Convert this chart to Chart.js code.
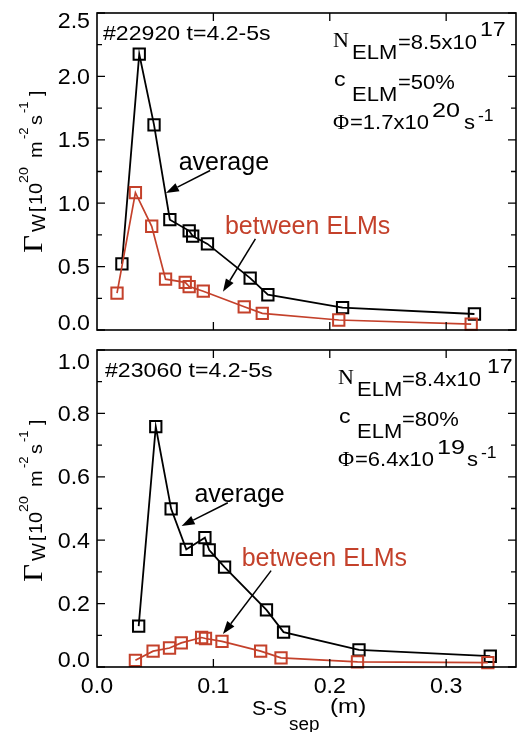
<!DOCTYPE html>
<html>
<head>
<meta charset="utf-8">
<script src="https://cdn.jsdelivr.net/npm/chart.js@4.4.1/dist/chart.umd.min.js"></script>
<style>
  body { margin: 0; background: #fff; width: 526px; height: 732px; overflow: hidden; position: relative; }
  canvas { position: absolute; left: 0; }
</style>
</head>
<body>
<canvas id="topChart" width="526" height="340" style="top:0"></canvas>
<canvas id="botChart" width="526" height="392" style="top:340px"></canvas>
<script>
// shared x axis, S-S_sep in m
const xTicks = [0, 0.1, 0.2, 0.3];
const xTickLabels = ["0.0", "0.1", "0.2", "0.3"];

// shot #22920 (top panel)
const topAvgX = [0.0214, 0.0363, 0.049, 0.0626, 0.0792, 0.0822, 0.0949, 0.1316, 0.1468, 0.211, 0.3243];
const topAvgY = [0.522, 2.176, 1.618, 0.87, 0.782, 0.741, 0.679, 0.409, 0.278, 0.177, 0.126];
const topElmX = [0.0172, 0.033, 0.047, 0.0589, 0.0758, 0.0792, 0.0913, 0.1265, 0.142, 0.2077, 0.3215];
const topElmY = [0.291, 1.083, 0.818, 0.401, 0.376, 0.342, 0.306, 0.183, 0.131, 0.079, 0.046];
const topYTicks = [0, 0.5, 1, 1.5, 2, 2.5];
const topYTickLabels = ["0.0", "0.5", "1.0", "1.5", "2.0", "2.5"];
const topYMinor = [0.25, 0.75, 1.25, 1.75, 2.25];

// shot #23060 (bottom panel)
const botAvgX = [0.0358, 0.0505, 0.0637, 0.0767, 0.0927, 0.0964, 0.1096, 0.1456, 0.1603, 0.2251, 0.3379];
const botAvgY = [0.129, 0.758, 0.499, 0.371, 0.408, 0.369, 0.315, 0.18, 0.11, 0.054, 0.034];
const botElmX = [0.033, 0.0482, 0.0623, 0.0724, 0.0899, 0.0932, 0.1074, 0.1406, 0.1581, 0.2238, 0.3358];
const botElmY = [0.021, 0.05, 0.06, 0.076, 0.093, 0.09, 0.081, 0.05, 0.029, 0.016, 0.014];
const botYTicks = [0, 0.2, 0.4, 0.6, 0.8, 1.0];
const botYTickLabels = ["0.0", "0.2", "0.4", "0.6", "0.8", "1.0"];
const botYMinor = [0.1, 0.3, 0.5, 0.7, 0.9];

const RED = "#c4412b";
const SANS = '"Liberation Sans", Arial, Helvetica, sans-serif';
const SERIF = '"Liberation Serif", "Times New Roman", serif';

function pts(xs, ys) {
  return xs.map((x, i) => ({ x: x, y: ys[i] }));
}

// text with a little horizontal stretch, like the original plot fonts
function put(ctx, s, x, y, size, o) {
  o = o || {};
  ctx.save();
  ctx.font = size + "px " + (o.serif ? SERIF : SANS);
  ctx.fillStyle = o.color || "#000";
  ctx.textAlign = o.align || "left";
  ctx.textBaseline = "alphabetic";
  ctx.translate(x, y);
  ctx.scale(o.sx === undefined ? 1.1 : o.sx, 1);
  ctx.fillText(s, 0, 0);
  ctx.restore();
}

function arrow(ctx, x1, y1, x2, y2) {
  const a = Math.atan2(y2 - y1, x2 - x1);
  const L = 13, W = 4.5;
  ctx.save();
  ctx.strokeStyle = "#000";
  ctx.fillStyle = "#000";
  ctx.lineWidth = 1.5;
  ctx.beginPath();
  ctx.moveTo(x1, y1);
  ctx.lineTo(x2 - Math.cos(a) * L, y2 - Math.sin(a) * L);
  ctx.stroke();
  ctx.beginPath();
  ctx.moveTo(x2, y2);
  ctx.lineTo(x2 - Math.cos(a) * L - Math.sin(a) * W, y2 - Math.sin(a) * L + Math.cos(a) * W);
  ctx.lineTo(x2 - Math.cos(a) * L + Math.sin(a) * W, y2 - Math.sin(a) * L - Math.cos(a) * W);
  ctx.closePath();
  ctx.fill();
  ctx.restore();
}

function frameAndText(p) {
  return {
    id: "frame_" + p.name,
    afterDraw(chart) {
      const ctx = chart.ctx;
      const a = chart.chartArea;
      const xs = chart.scales.x, ys = chart.scales.y;

      // box
      ctx.save();
      ctx.strokeStyle = "#000";
      ctx.lineWidth = 1.6;
      ctx.strokeRect(a.left, a.top, a.right - a.left, a.bottom - a.top);

      // inward ticks on all four sides
      ctx.lineWidth = 1.3;
      ctx.beginPath();
      xTicks.forEach(v => {
        const px = xs.getPixelForValue(v);
        if (px <= a.left + 1) return;
        ctx.moveTo(px, a.bottom); ctx.lineTo(px, a.bottom - 8);
        ctx.moveTo(px, a.top); ctx.lineTo(px, a.top + 8);
      });
      p.yTicks.forEach(v => {
        const py = ys.getPixelForValue(v);
        ctx.moveTo(a.left, py); ctx.lineTo(a.left + 8, py);
        ctx.moveTo(a.right, py); ctx.lineTo(a.right - 8, py);
      });
      p.yMinor.forEach(v => {
        const py = ys.getPixelForValue(v);
        ctx.moveTo(a.left, py); ctx.lineTo(a.left + 5, py);
        ctx.moveTo(a.right, py); ctx.lineTo(a.right - 5, py);
      });
      ctx.stroke();
      ctx.restore();

      // y tick labels, kept inside the panel height
      p.yTicks.forEach((v, i) => {
        let cy = ys.getPixelForValue(v);
        cy = Math.max(a.top + p.labTop, Math.min(a.bottom - 7.5, cy));
        put(ctx, p.yTickLabels[i], 90, cy + 7.5, 21.5, { align: "right", sx: 1.08 });
      });

      // x tick labels only on the lower panel
      if (p.xLabels) {
        xTicks.forEach((v, i) => {
          put(ctx, xTickLabels[i], xs.getPixelForValue(v), a.bottom + 26, 21.5, { align: "center", sx: 1.08 });
        });
        put(ctx, "S-S", 252, a.bottom + 48, 21, { sx: 1.0 });
        put(ctx, "sep", 289, a.bottom + 63, 18, { sx: 1.05 });
        put(ctx, "(m)", 330, a.bottom + 46, 21, { sx: 1.15 });
      }

      // rotated y title: Γ_W[10^20 m^-2 s^-1]
      ctx.save();
      ctx.translate(42, a.top + p.titleStart);
      ctx.rotate(-Math.PI / 2);
      put(ctx, "\u0393", 0, 0, 27, { serif: true, sx: 1.15 });
      put(ctx, "W", 21, 3, 18, { sx: 1.05 });
      put(ctx, "[", 41, 0, 19, { sx: 1.0 });
      put(ctx, "10", 48, 0, 19, { sx: 1.05 });
      put(ctx, "20", 70, -14, 13, { sx: 1.1 });
      put(ctx, "m", 95, 0, 19, { sx: 1.05 });
      put(ctx, "-2", 114, -14, 13, { sx: 1.0 });
      put(ctx, "s", 128, 0, 19, { sx: 1.05 });
      put(ctx, "-1", 140, -14, 13, { sx: 1.0 });
      put(ctx, "]", 157, 0, 19, { sx: 1.0 });
      ctx.restore();

      // header and ELM numbers
      const T = a.top;
      put(ctx, p.header, p.headerX, T + 27, 21);
      const b = p.block, x0 = p.blockX;
      put(ctx, "N", x0, T + 34, 22, { serif: true, sx: 1.0 });
      put(ctx, "ELM", x0 + 19, T + 46, 20);
      put(ctx, b.n, x0 + b.nDx, T + 36, 20);
      put(ctx, "17", x0 + b.n17Dx, T + 23, 21);
      put(ctx, "c", x0 + 1, T + 73, 21);
      put(ctx, "ELM", x0 + 19, T + 88, 20);
      put(ctx, b.c, x0 + b.nDx, T + 76, 20);
      put(ctx, "\u03a6", x0, T + 116, 22, { serif: true, sx: 1.0 });
      put(ctx, b.phi, x0 + 17, T + 116, 20);
      put(ctx, b.phiExp, x0 + 99, T + 104, 21, { sx: 1.2 });
      put(ctx, "s", x0 + b.sDx, T + 116, 20);
      put(ctx, "-1", x0 + b.sDx + 14, T + 108, 16);

      // annotations, placed in data units
      p.notes.forEach(n => {
        put(ctx, n.text, xs.getPixelForValue(n.tx), ys.getPixelForValue(n.ty), 25, { sx: 1.0, color: n.color });
        arrow(ctx, xs.getPixelForValue(n.ax1), ys.getPixelForValue(n.ay1),
              xs.getPixelForValue(n.ax2), ys.getPixelForValue(n.ay2));
      });
    }
  };
}

function makeChart(id, p) {
  const canvas = document.getElementById(id);
  const ctx = canvas.getContext("2d");
  return new Chart(ctx, {
    type: "line",
    data: {
      datasets: [
        {
          label: "between ELMs",
          data: pts(p.elmX, p.elmY),
          borderColor: RED,
          borderWidth: 1.7,
          pointStyle: "rect",
          pointRadius: 8,
          pointBorderWidth: 2,
          pointBorderColor: RED,
          pointBackgroundColor: "rgba(0,0,0,0)",
          tension: 0,
          clip: false
        },
        {
          label: "average",
          data: pts(p.avgX, p.avgY),
          borderColor: "#000",
          borderWidth: 1.8,
          pointStyle: "rect",
          pointRadius: 8,
          pointBorderWidth: 2,
          pointBorderColor: "#000",
          pointBackgroundColor: "rgba(0,0,0,0)",
          tension: 0,
          clip: false
        }
      ]
    },
    options: {
      responsive: false,
      animation: false,
      devicePixelRatio: 1,
      events: [],
      layout: { padding: p.padding },
      plugins: { legend: { display: false }, tooltip: { enabled: false } },
      scales: {
        x: { type: "linear", min: 0, max: 0.36, display: false },
        y: { type: "linear", min: 0, max: p.yMax, display: false }
      }
    },
    plugins: [frameAndText(p)]
  });
}

document.addEventListener("DOMContentLoaded", () => {
  makeChart("topChart", {
    name: "top",
    avgX: topAvgX, avgY: topAvgY, elmX: topElmX, elmY: topElmY,
    yMax: 2.5, yTicks: topYTicks, yTickLabels: topYTickLabels, yMinor: topYMinor,
    padding: { left: 97, right: 3, top: 13, bottom: 3 },
    labTop: 7.5, titleStart: 240, xLabels: false,
    header: "#22920 t=4.2-5s", headerX: 103, blockX: 333,
    block: { n: "=8.5x10", nDx: 65, n17Dx: 147, c: "=50%", phi: "=1.7x10", phiExp: "20", sDx: 131 },
    notes: [
      { text: "average", color: "#000", tx: 0.0702, ty: 1.258, ax1: 0.0972, ay1: 1.258, ax2: 0.0592, ay2: 1.08 },
      { text: "between ELMs", color: RED, tx: 0.1099, ty: 0.756, ax1: 0.1361, ay1: 0.718, ax2: 0.1082, ay2: 0.301 }
    ]
  });

  makeChart("botChart", {
    name: "bot",
    avgX: botAvgX, avgY: botAvgY, elmX: botElmX, elmY: botElmY,
    yMax: 1.0, yTicks: botYTicks, yTickLabels: botYTickLabels, yMinor: botYMinor,
    padding: { left: 97, right: 3, top: 1, bottom: 65 },
    labTop: 11.5, titleStart: 232, xLabels: true,
    header: "#23060 t=4.2-5s", headerX: 105, blockX: 338,
    block: { n: "=8.4x10", nDx: 64, n17Dx: 149, c: "=80%", phi: "=6.4x10", phiExp: "19", sDx: 129 },
    notes: [
      { text: "average", color: "#000", tx: 0.0837, ty: 0.5215, ax1: 0.1124, ay1: 0.518, ax2: 0.0727, ay2: 0.445 },
      { text: "between ELMs", color: RED, tx: 0.1243, ty: 0.319, ax1: 0.1496, ay1: 0.304, ax2: 0.1082, ay2: 0.104 }
    ]
  });
});
</script>
</body>
</html>
